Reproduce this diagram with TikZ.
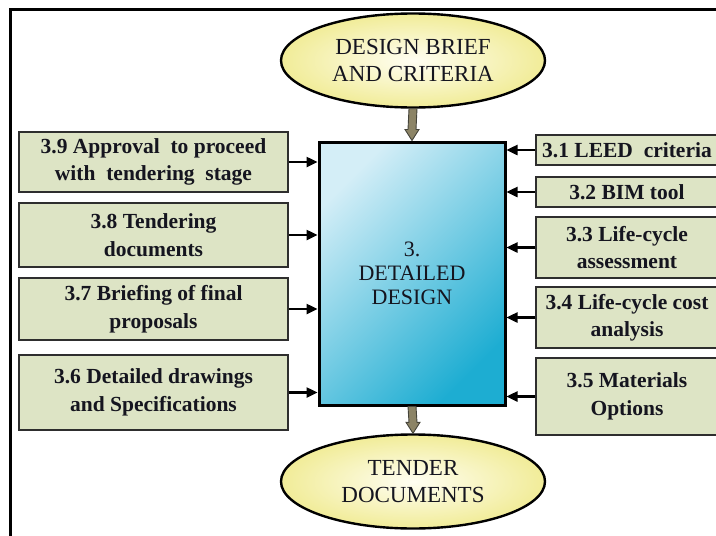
\documentclass[tikz,border=0pt]{standalone}
\usepackage{fontspec}
\setmainfont{Liberation Serif}
\usetikzlibrary{shapes.geometric,arrows.meta,calc}

\definecolor{boxfill}{HTML}{DDE4C5}
\definecolor{boxline}{HTML}{2E2E2E}
\definecolor{ovalin}{HTML}{FFFEF2}
\definecolor{ovalout}{HTML}{F1EC98}
\definecolor{mainlight}{HTML}{D4EEF7}
\definecolor{maindark}{HTML}{1DADD2}
\definecolor{flowfill}{HTML}{8C8466}
\definecolor{flowline}{HTML}{45443A}
\definecolor{ink}{HTML}{15151F}

% block arrow pointing down from #1 to #2
\newcommand\flowdown[2]{%
  \filldraw[flowarrow] ($(#1)+(-4,0)$) -- ($(#2)+(-4,-11)$) -- ($(#2)+(-7,-11)$)
    -- (#2) -- ($(#2)+(7,-11)$) -- ($(#2)+(4,-11)$) -- ($(#1)+(4,0)$) -- cycle;}

\begin{document}
\begin{tikzpicture}[x=1pt,y=-1pt,
  subbox/.style={draw=boxline, line width=1.4pt, fill=boxfill, align=center,
    inner sep=0pt, text=ink, font=\bfseries\fontsize{21.5}{27.5}\selectfont},
  leftbox/.style={subbox, minimum width=269pt},
  rightbox/.style={subbox, minimum width=182pt},
  oval/.style={ellipse, draw=black, line width=2.4pt, inner color=ovalin,
    outer color=ovalout, minimum width=264pt, minimum height=94pt,
    inner sep=0pt, align=center, text=ink, font=\fontsize{23}{27}\selectfont},
  mainbox/.style={draw=black, line width=3pt, top color=mainlight,
    bottom color=maindark, shading angle=45, minimum width=186pt,
    minimum height=263pt, inner sep=0pt, align=center, text=ink,
    font=\fontsize{22}{24}\selectfont},
  feed/.style={draw=black, line width=2.4pt,
    -{Triangle[length=11pt,width=10pt]}},
  flowarrow/.style={fill=flowfill, draw=flowline, line width=0.9pt, line join=miter}
]
\useasboundingbox (0,0) rectangle (716,536);
\clip (0,0) rectangle (716,536);

% outer frame
\draw[line width=3pt] (10,9) rectangle (740,560);

% central stage and its input/output ovals
\node[mainbox] (main) at (412,273.5) {3.\\DETAILED\\DESIGN};
\node[oval] (brief) at (413,60.5) {DESIGN BRIEF\\AND CRITERIA};
\node[oval] (tender) at (413,481.5) {TENDER\\DOCUMENTS};

% left-hand activities
\node[leftbox, minimum height=60pt] (b39) at (153.5,162) {3.9 Approval\ \ to proceed\\with\ \ tendering\ \ stage};
\node[leftbox, minimum height=64pt] (b38) at (153.5,235) {3.8 Tendering\\documents};
\node[leftbox, minimum height=62pt] (b37) at (153.5,309) {3.7 Briefing of final\\proposals};
\node[leftbox, minimum height=75pt] (b36) at (153.5,392.5) {3.6 Detailed drawings\\and Specifications};

% right-hand activities
\node[rightbox, minimum height=30pt] (b31) at (627,150) {3.1 LEED\ \ criteria};
\node[rightbox, minimum height=30pt] (b32) at (627,192) {3.2 BIM tool};
\node[rightbox, minimum height=61pt] (b33) at (627,247.5) {3.3 Life-cycle\\assessment};
\node[rightbox, minimum height=61pt] (b34) at (627,317.5) {3.4 Life-cycle\ cost\\analysis};
\node[rightbox, minimum height=77pt] (b35) at (627,396.5) {3.5 Materials\\Options};

% feeds into the central stage
\foreach \b in {b39,b38,b37,b36}
  \draw[feed] (\b.east) -- (\b.east -| main.west);
\foreach \b in {b31,b32,b33,b34,b35}
  \draw[feed] (\b.west) -- (\b.west -| main.east);

% main flow
\flowdown{brief.south}{main.north}
\flowdown{main.south}{tender.north}
\end{tikzpicture}
\end{document}
